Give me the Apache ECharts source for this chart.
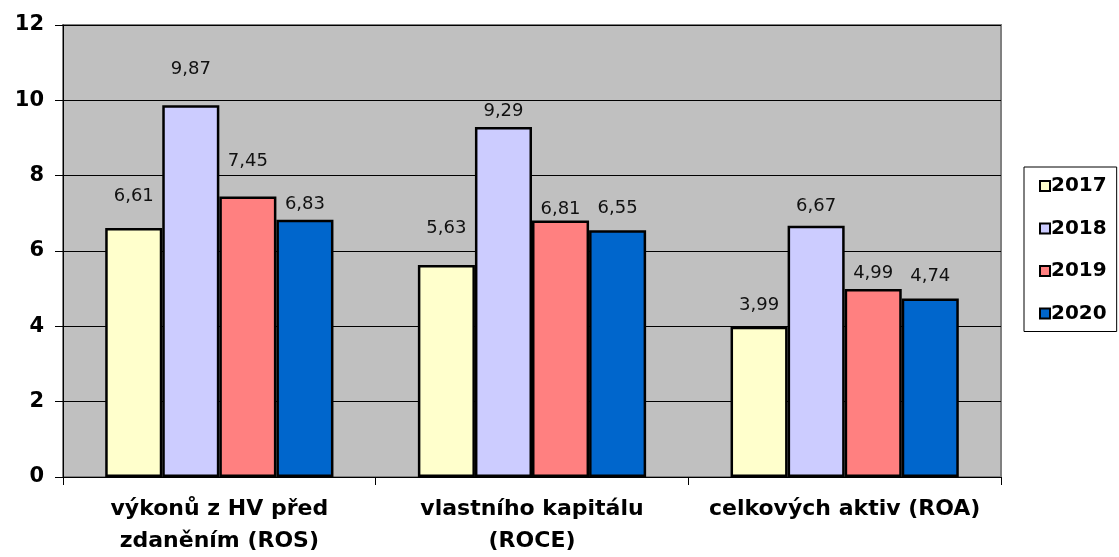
<!DOCTYPE html>
<html><head><meta charset="utf-8">
<script src="https://cdn.jsdelivr.net/npm/echarts@6/dist/echarts.min.js"></script>
<style>html,body{margin:0;padding:0;background:#fff}#c{width:1119px;height:557px}</style>
</head><body><div id="c"></div>
<script>
const categories = ['výkonů z HV před\nzdaněním (ROS)', 'vlastního kapitálu\n(ROCE)', 'celkových aktiv (ROA)'];
const years = ['2017', '2018', '2019', '2020'];
const v2017 = [6.61, 5.63, 3.99];
const v2018 = [9.87, 9.29, 6.67];
const v2019 = [7.45, 6.81, 4.99];
const v2020 = [6.83, 6.55, 4.74];
const seriesData = [v2017, v2018, v2019, v2020];

// styling: colours and per-label gap above bar (labels in the source were hand-placed)
const colors = ['#FFFFCC', '#CCCCFF', '#FF8080', '#0066CC'];
const labelGap = [[23, 27.5, 12.5], [27, 6.5, 10], [26.5, 2.5, 7], [6.5, 13, 13]];
const FONT = 'DejaVu Sans';

const chart = echarts.init(document.getElementById('c'), null, {renderer: 'canvas'});
chart.setOption({
  animation: false,
  backgroundColor: '#fff',
  grid: {left: 63, right: 118, top: 25, bottom: 78, show: true, backgroundColor: '#C0C0C0', borderColor: '#808080', borderWidth: 2},
  legend: {
    orient: 'vertical', left: 1024, top: 167,
    data: years,
    icon: 'rect', itemWidth: 10, itemHeight: 10, itemGap: 22.5,
    padding: [9, 10, 8, 15],
    borderColor: '#000', borderWidth: 1,
    textStyle: {fontFamily: FONT, fontWeight: 'bold', fontSize: 20, color: '#000', lineHeight: 18, padding: [0,0,0,-4]}
  },
  xAxis: {
    type: 'category', data: categories,
    axisLine: {lineStyle: {color: '#000', width: 1}},
    axisTick: {show: true, length: 8, lineStyle: {color: '#000'}},
    axisLabel: {fontFamily: FONT, fontWeight: 'bold', fontSize: 22, color: '#000', lineHeight: 32, margin: 16, interval: 0}
  },
  yAxis: {
    type: 'value', min: 0, max: 12, interval: 2,
    axisLine: {show: true, lineStyle: {color: '#000', width: 1}},
    axisTick: {show: true, length: 8, lineStyle: {color: '#000'}},
    splitLine: {lineStyle: {color: '#000', width: 1}},
    axisLabel: {fontFamily: FONT, fontWeight: 'bold', fontSize: 21, color: '#000', margin: 19}
  },
  series: years.map((y, i) => ({
    name: y, type: 'bar',
    data: seriesData[i].map((v, j) => ({value: v, label: {distance: labelGap[i][j]}})),
    barGap: '0%', barCategoryGap: '27%',
    itemStyle: {color: colors[i], borderColor: '#000', borderWidth: 2.5},
    label: {show: true, position: 'top', fontFamily: FONT, fontSize: 18, lineHeight: 18, color: '#111',
      formatter: p => p.value.toFixed(2).replace('.', ',')}
  }))
});
</script></body></html>
